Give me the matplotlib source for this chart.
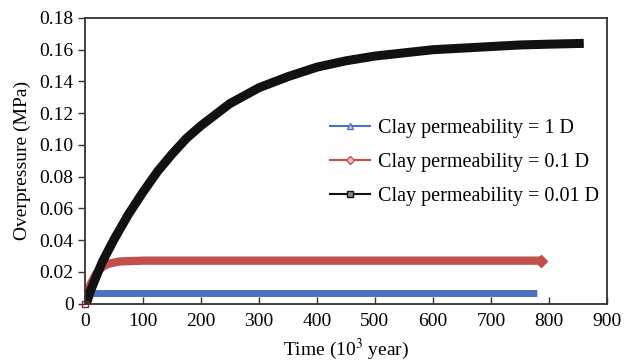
import matplotlib
matplotlib.use("Agg")
import matplotlib.pyplot as plt
from matplotlib.lines import Line2D
from matplotlib.ticker import FuncFormatter

plt.rcParams['font.family'] = ['Liberation Serif', 'DejaVu Serif']
plt.rcParams['mathtext.fontset'] = 'stix'

# values
t_black = [3, 10, 20, 30, 50, 75, 100, 125, 150, 175, 200, 250, 300, 350, 400,
           450, 500, 550, 600, 650, 700, 750, 800, 860]
p_black = [0.0, 0.008, 0.017, 0.026, 0.040, 0.056, 0.070, 0.083, 0.094, 0.104,
           0.112, 0.126, 0.136, 0.143, 0.149, 0.153, 0.156, 0.158, 0.160,
           0.161, 0.162, 0.163, 0.1635, 0.164]

t_red = [3, 10, 20, 30, 40, 60, 100, 200, 400, 600, 786]
p_red = [0.004, 0.012, 0.019, 0.023, 0.025, 0.0265, 0.027, 0.027, 0.027, 0.027, 0.027]

t_blue = [3, 8, 15, 100, 300, 500, 780]
p_blue = [0.003, 0.0055, 0.0063, 0.0063, 0.0063, 0.0063, 0.0063]

labels = ["Clay permeability = 1 D",
          "Clay permeability = 0.1 D",
          "Clay permeability = 0.01 D"]

c_blue = "#4a72c0"
c_red = "#c0504d"
c_black = "#111111"

fig = plt.figure(figsize=(6.24, 3.62), dpi=100)
ax = fig.add_axes([84.7/624, 1-303.5/362, (607-84.7)/624, (303.5-18)/362])

ax.plot(t_blue, p_blue, color=c_blue, lw=5, solid_capstyle='butt', solid_joinstyle='round')
ax.plot(t_red, p_red, color=c_red, lw=6, solid_capstyle='butt', solid_joinstyle='round')
ax.plot(t_red[-1:], p_red[-1:], marker='D', ms=6, color=c_red, lw=0)
ax.plot(t_black, p_black, color=c_black, lw=6.5, solid_capstyle='butt', solid_joinstyle='round')
ax.plot([0], [0], marker='s', ms=5, mfc='none', mec='#8b2030', mew=1, lw=0, clip_on=False)

ax.set_xlim(0, 900)
ax.set_ylim(0, 0.18)
ax.set_xticks(range(0, 901, 100))
ax.set_yticks([0, 0.02, 0.04, 0.06, 0.08, 0.10, 0.12, 0.14, 0.16, 0.18])
ax.yaxis.set_major_formatter(FuncFormatter(lambda v, p: "0" if v == 0 else f"{v:.2f}"))

ax.tick_params(axis='x', direction='in', length=5, width=1, labelsize=14, pad=7, color='#333333')
ax.tick_params(axis='y', direction='out', length=5, width=1, labelsize=14, pad=3, color='#333333')
for s in ax.spines.values():
    s.set_linewidth(1.3)
    s.set_color('#333333')

ax.set_xlabel("Time (10$^3$ year)", fontsize=14, labelpad=5)
ax.set_ylabel("Overpressure (MPa)", fontsize=14, labelpad=6)

handles = [
    Line2D([], [], color=c_blue, lw=1.5, marker='^', ms=4, mfc='#c8d4ee', mec=c_blue),
    Line2D([], [], color=c_red, lw=1.5, marker='D', ms=4, mfc='#f0c0c0', mec=c_red),
    Line2D([], [], color=c_black, lw=1.5, marker='s', ms=4, mfc='#888888', mec=c_black),
]
ax.legend(handles, labels, loc='upper left', bbox_to_anchor=(330/624, 1-119/362),
          bbox_transform=fig.transFigure, frameon=False, fontsize=14.5, numpoints=1,
          handlelength=2.0, handletextpad=0.4, labelspacing=0.75, borderpad=0,
          borderaxespad=0)

fig.savefig("out.png", dpi=100)
